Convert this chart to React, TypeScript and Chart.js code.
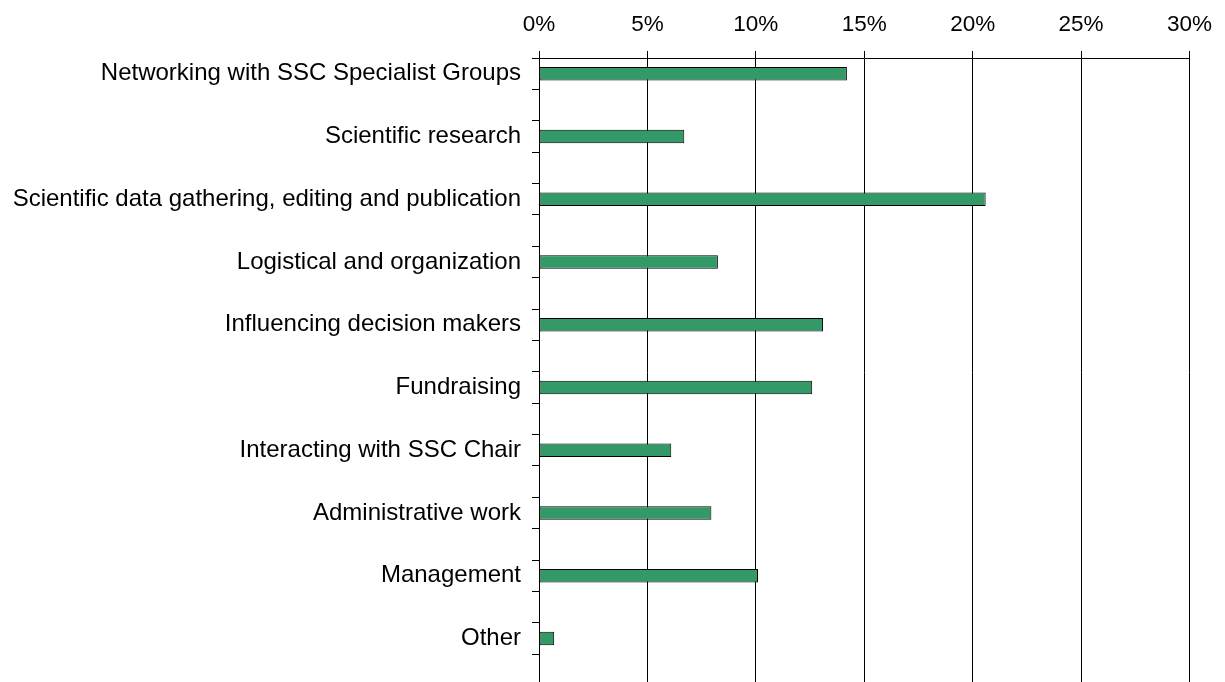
import React, { useEffect, useRef } from "react";
import { Chart, registerables } from "chart.js";

Chart.register(...registerables);

const categories: string[] = [
  "Networking with SSC Specialist Groups",
  "Scientific research",
  "Scientific data gathering, editing and publication",
  "Logistical and organization",
  "Influencing decision makers",
  "Fundraising",
  "Interacting with SSC Chair",
  "Administrative work",
  "Management",
  "Other",
];

const shares: number[] = [14.2, 6.7, 20.6, 8.25, 13.1, 12.6, 6.1, 7.95, 10.1, 0.7];

const xTickValues: number[] = [0, 5, 10, 15, 20, 25, 30];

export default function App() {
  const ref = useRef<HTMLCanvasElement | null>(null);

  useEffect(() => {
    document.body.style.margin = "0";
    const canvas = ref.current;
    if (!canvas) return;

    // each category occupies a slot followed by an empty slot
    const labels: string[] = [];
    const values: (number | null)[] = [];
    categories.forEach((c, i) => {
      labels.push(c);
      values.push(shares[i]);
      labels.push("");
      values.push(null);
    });

    const family = "'Liberation Sans', Arial, sans-serif";

    const chart = new Chart(canvas, {
      type: "bar",
      data: {
        labels,
        datasets: [
          {
            data: values as any,
            backgroundColor: "#339966",
            borderColor: "#000000",
            borderWidth: 1,
            borderSkipped: false,
            barPercentage: 1,
            categoryPercentage: 0.43,
          },
        ],
      },
      options: {
        indexAxis: "y",
        responsive: false,
        animation: false,
        devicePixelRatio: 1,
        layout: { padding: { top: 0, left: 0, right: 31, bottom: 3 } },
        plugins: {
          legend: { display: false },
          tooltip: { enabled: false },
          title: { display: false },
        },
        scales: {
          x: {
            position: "top",
            min: 0,
            max: 30,
            afterBuildTicks: (scale: any) => {
              scale.ticks = xTickValues.map((v) => ({ value: v }));
            },
            afterFit: (scale: any) => {
              scale.height = 58;
            },
            ticks: {
              font: { family, size: 22.5 },
              color: "#000000",
              padding: 13,
              callback: (v: any) => `${v}%`,
            },
            grid: {
              color: "#000000",
              lineWidth: 1,
              drawTicks: true,
              tickLength: 7,
            },
            border: { display: true, color: "#000000", width: 1 },
          },
          y: {
            afterFit: (scale: any) => {
              scale.width = 539;
            },
            ticks: {
              font: { family, size: 24 },
              color: "#000000",
              padding: 11,
              autoSkip: false,
            },
            grid: {
              offset: true,
              drawOnChartArea: false,
              drawTicks: true,
              tickLength: 7,
              color: "#000000",
              lineWidth: 1,
            },
            border: { display: true, color: "#000000", width: 1 },
          },
        },
      },
    });

    return () => chart.destroy();
  }, []);

  return (
    <div style={{ width: 1225, height: 682, overflow: "hidden", background: "#ffffff" }}>
      <canvas ref={ref} width={1225} height={711} style={{ display: "block" }} />
    </div>
  );
}
